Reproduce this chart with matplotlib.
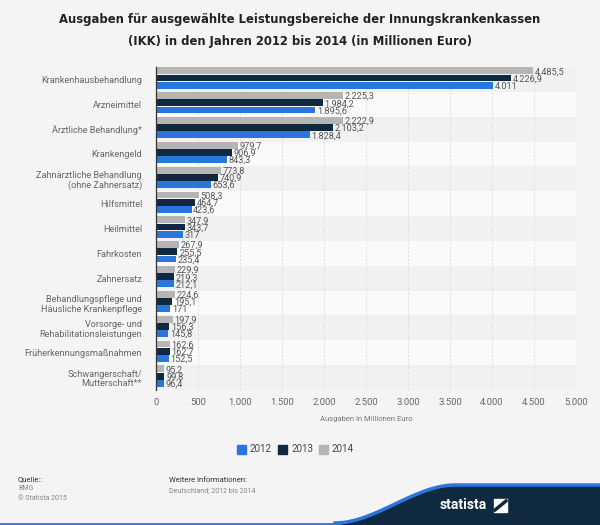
import numpy as np
import matplotlib
matplotlib.use('Agg')
import matplotlib.pyplot as plt
from matplotlib.patches import Polygon, Rectangle

categories = ['Krankenhausbehandlung', 'Arzneimittel', 'Ärztliche Behandlung*',
              'Krankengeld', 'Zahnärztliche Behandlung\n(ohne Zahnersatz)',
              'Hilfsmittel', 'Heilmittel', 'Fahrkosten', 'Zahnersatz',
              'Behandlungspflege und\nHäusliche Krankenpflege',
              'Vorsorge- und\nRehabilitationsleistungen',
              'Früherkennungsmaßnahmen', 'Schwangerschaft/\nMutterschaft**']
v2012 = [4011, 1895.6, 1828.4, 843.3, 653.6, 423.6, 317, 235.4, 212.1, 171, 145.8, 152.5, 96.4]
v2013 = [4226.9, 1984.2, 2103.2, 906.9, 740.9, 464.7, 343.7, 255.5, 219.3, 195.1, 156.3, 162.7, 99.8]
v2014 = [4485.5, 2225.3, 2222.9, 979.7, 773.8, 508.3, 347.9, 267.9, 229.9, 224.6, 197.9, 162.6, 95.2]
years = ['2012', '2013', '2014']
xticks = [0, 500, 1000, 1500, 2000, 2500, 3000, 3500, 4000, 4500, 5000]

col2012 = '#2a76dd'
col2013 = '#0f2a40'
col2014 = '#b5b5b5'
bg = '#f4f4f4'
fnt = 'Roboto'


def de(v):
    # German number format: 1.234,5
    if float(v).is_integer():
        s = '{:,.0f}'.format(v)
    else:
        s = '{:,.1f}'.format(v)
    return s.replace(',', 'X').replace('.', ',').replace('X', '.')


def de_tick(v):
    return '{:,.0f}'.format(v).replace(',', '.')


fig = plt.figure(figsize=(6, 5.25), dpi=100, facecolor=bg)
ax = fig.add_axes([156/600, 1-390/525, 420/600, 323/525])
ax.set_facecolor(bg)

n = len(categories)
y = np.arange(n)
h = 0.29
for i in range(n):
    c = '#f1f1f1' if i % 2 == 0 else '#fafafa'
    ax.axhspan(i-0.5, i+0.5, color=c, zorder=0, lw=0)

for xv in xticks[1:]:
    ax.axvline(xv, color='#dcdcdc', lw=0.6, ls=(0, (3, 2)), zorder=1)

series = [(v2014, col2014, -h), (v2013, col2013, 0), (v2012, col2012, h)]
for vals, col, off in series:
    ax.barh(y + off - 0.06, vals, height=h*0.95, color=col, zorder=2)
    for yi, v in zip(y, vals):
        ax.text(v + 20, yi + off - 0.02, de(v), va='center', ha='left', family=fnt,
                fontsize=6.6, color='#555555', zorder=3)

ax.set_ylim(n-0.5, -0.5)
ax.set_xlim(0, 5000)
ax.set_yticks(y)
ax.set_yticklabels(categories, fontsize=6.6, color='#666666', ha='right',
                   multialignment='right', family=fnt, linespacing=1.1)
ax.set_xticks(xticks)
ax.set_xticklabels([de_tick(t) for t in xticks], fontsize=6.8, color='#666666', family=fnt)
ax.tick_params(axis='y', length=0, pad=10)
ax.tick_params(axis='x', length=0, pad=6)
for s in ['top', 'right', 'bottom']:
    ax.spines[s].set_visible(False)
ax.spines['left'].set_color('#333333')
ax.spines['left'].set_linewidth(0.9)
ax.set_xlabel('Ausgaben in Millionen Euro', fontsize=5.5, color='#777777', labelpad=6, family=fnt)

fig.text(0.5, 1-20/525, 'Ausgaben für ausgewählte Leistungsbereiche der Innungskrankenkassen',
         ha='center', va='center', fontsize=8.4, fontweight='bold', color='#222222')
fig.text(0.5, 1-42/525, '(IKK) in den Jahren 2012 bis 2014 (in Millionen Euro)',
         ha='center', va='center', fontsize=8.4, fontweight='bold', color='#222222')

# legend
lx = [237, 278, 319]
for x0, lab, col in zip(lx, years, [col2012, col2013, col2014]):
    fig.patches.append(Rectangle((x0/600, 1-454/525), 9/600, 9/525,
                                 transform=fig.transFigure, color=col))
    fig.text((x0+13)/600, 1-449.5/525, lab, fontsize=7, color='#444444', va='center', family=fnt)

# footer
fig.text(18/600, 1-479/525, 'Quelle::', fontsize=5.5, color='#333333', va='center', family=fnt)
fig.text(18/600, 1-488/525, 'BMG', fontsize=5, color='#888888', va='center', family=fnt)
fig.text(18/600, 1-498/525, '© Statista 2015', fontsize=5, color='#888888', va='center', family=fnt)
fig.text(169/600, 1-480/525, 'Weitere Informationen:', fontsize=5.5, color='#333333', va='center', family=fnt)
fig.text(169/600, 1-491/525, 'Deutschland; 2012 bis 2014', fontsize=5, color='#888888', va='center', family=fnt)

# statista swoosh
t = np.linspace(0, 1, 60)
cx = 335 + 120 * t
cy = 524 - 38 * (3*t**2 - 2*t**3)
top_x = np.concatenate([cx, [600]])
top_y = np.concatenate([cy, [486]])
pts = [(xx/600, 1-yy/525) for xx, yy in zip(top_x, top_y)] + [(1, 0), (335/600, 0)]
fig.patches.append(Polygon(pts, closed=True, transform=fig.transFigure,
                           facecolor=col2013, edgecolor='none'))
fig.lines.append(plt.Line2D(top_x/600, 1-(top_y-1)/525, transform=fig.transFigure,
                            color=col2012, lw=2.5))
fig.lines.append(plt.Line2D([0, 340/600], [1/525, 1/525], transform=fig.transFigure,
                            color=col2012, lw=2))
fig.text(440/600, 1-505/525, 'statista', fontsize=10, fontweight='bold', color='white',
         va='center', ha='left', family=fnt)
fig.patches.append(Rectangle((494/600, 1-512/525), 13/600, 13/525,
                             transform=fig.transFigure, color='white'))
fig.lines.append(plt.Line2D([495/600, 506/600], [1-510/525, 1-501/525],
                            transform=fig.transFigure, color=col2013, lw=2.5))

fig.savefig('out.png', dpi=100, facecolor=bg)
